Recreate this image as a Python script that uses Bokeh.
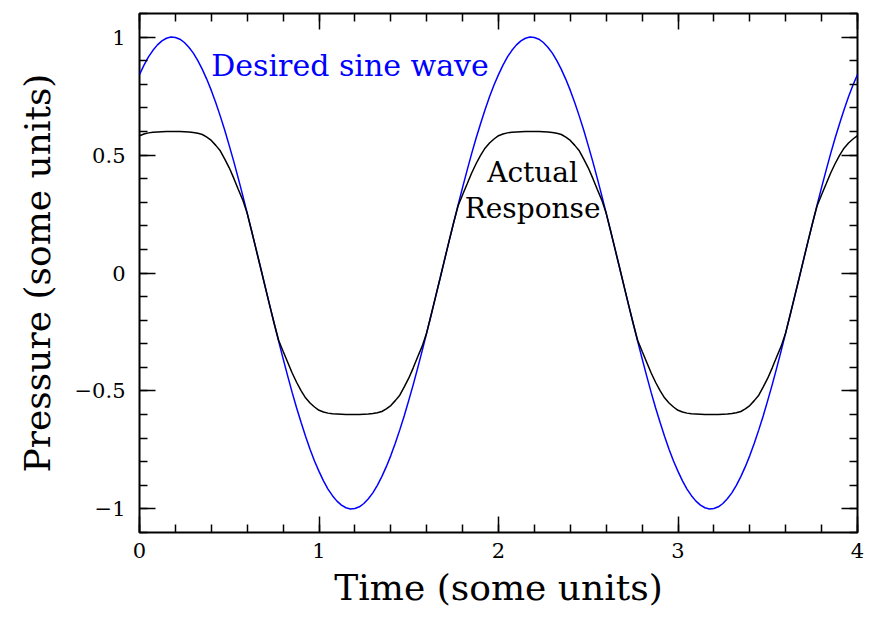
from bokeh.plotting import figure
from bokeh.models import FixedTicker, LinearAxis, Range1d, Label
from bokeh.embed import file_html
from bokeh.resources import INLINE

# sample times (0 .. 4 in steps of 0.025)
time = [round(i * 0.025, 3) for i in range(161)]

desired = [
    # 0 .. 1
    0.841, 0.881, 0.916, 0.944, 0.967, 0.984, 0.995, 1.000, 0.998, 0.991,
    0.977, 0.957, 0.932, 0.900, 0.863, 0.821, 0.774, 0.722, 0.665, 0.605,
    0.540, 0.473, 0.402, 0.329, 0.254, 0.177, 0.099, 0.021, -0.058, -0.136,
    -0.213, -0.289, -0.363, -0.435, -0.505, -0.571, -0.633, -0.692, -0.747, -0.797,
    -0.841,
    # 1.025 .. 2
    -0.881, -0.916, -0.944, -0.967, -0.984, -0.995, -1.000, -0.998, -0.991,
    -0.977, -0.957, -0.932, -0.900, -0.863, -0.821, -0.774, -0.722, -0.665, -0.605,
    -0.540, -0.473, -0.402, -0.329, -0.254, -0.177, -0.099, -0.021, 0.058, 0.136,
    0.213, 0.289, 0.363, 0.435, 0.505, 0.571, 0.633, 0.692, 0.747, 0.797,
    0.841,
    # 2.025 .. 3
    0.881, 0.916, 0.944, 0.967, 0.984, 0.995, 1.000, 0.998, 0.991,
    0.977, 0.957, 0.932, 0.900, 0.863, 0.821, 0.774, 0.722, 0.665, 0.605,
    0.540, 0.473, 0.402, 0.329, 0.254, 0.177, 0.099, 0.021, -0.058, -0.136,
    -0.213, -0.289, -0.363, -0.435, -0.505, -0.571, -0.633, -0.692, -0.747, -0.797,
    -0.841,
    # 3.025 .. 4
    -0.881, -0.916, -0.944, -0.967, -0.984, -0.995, -1.000, -0.998, -0.991,
    -0.977, -0.957, -0.932, -0.900, -0.863, -0.821, -0.774, -0.722, -0.665, -0.605,
    -0.540, -0.473, -0.402, -0.329, -0.254, -0.177, -0.099, -0.021, 0.058, 0.136,
    0.213, 0.289, 0.363, 0.435, 0.505, 0.571, 0.633, 0.692, 0.747, 0.797,
    0.841,
]

actual = [
    # 0 .. 1
    0.582, 0.589, 0.594, 0.597, 0.598, 0.599, 0.600, 0.600, 0.600, 0.600,
    0.599, 0.598, 0.596, 0.592, 0.587, 0.576, 0.562, 0.541, 0.518, 0.483,
    0.446, 0.402, 0.355, 0.310, 0.253, 0.177, 0.099, 0.021, -0.058, -0.136,
    -0.213, -0.285, -0.332, -0.377, -0.423, -0.463, -0.499, -0.529, -0.551, -0.568,
    -0.582,
    # 1.025 .. 2
    -0.589, -0.594, -0.597, -0.598, -0.599, -0.600, -0.600, -0.600, -0.600,
    -0.599, -0.598, -0.596, -0.592, -0.587, -0.576, -0.562, -0.541, -0.518, -0.483,
    -0.446, -0.402, -0.355, -0.310, -0.253, -0.177, -0.099, -0.021, 0.058, 0.136,
    0.213, 0.285, 0.332, 0.377, 0.423, 0.463, 0.499, 0.529, 0.551, 0.568,
    0.582,
    # 2.025 .. 3
    0.589, 0.594, 0.597, 0.598, 0.599, 0.600, 0.600, 0.600, 0.600,
    0.599, 0.598, 0.596, 0.592, 0.587, 0.576, 0.562, 0.541, 0.518, 0.483,
    0.446, 0.402, 0.355, 0.310, 0.253, 0.177, 0.099, 0.021, -0.058, -0.136,
    -0.213, -0.285, -0.332, -0.377, -0.423, -0.463, -0.499, -0.529, -0.551, -0.568,
    -0.582,
    # 3.025 .. 4
    -0.589, -0.594, -0.597, -0.598, -0.599, -0.600, -0.600, -0.600, -0.600,
    -0.599, -0.598, -0.596, -0.592, -0.587, -0.576, -0.562, -0.541, -0.518, -0.483,
    -0.446, -0.402, -0.355, -0.310, -0.253, -0.177, -0.099, -0.021, 0.058, 0.136,
    0.213, 0.285, 0.332, 0.377, 0.423, 0.463, 0.499, 0.529, 0.551, 0.568,
    0.582,
]

x_ticks = [0, 1, 2, 3, 4]
x_minor = [round(i * 0.2, 1) for i in range(21)]
y_ticks = [-1, -0.5, 0, 0.5, 1]
y_minor = [round(-1.1 + i * 0.1, 1) for i in range(23)]
y_tick_labels = {-1.0: "\u22121", -0.5: "\u22120.5", 0.0: "0", 0.5: "0.5", 1.0: "1"}

FONT = "DejaVu Serif"

p = figure(width=865, height=610, x_range=Range1d(0, 4), y_range=Range1d(-1.1, 1.1),
           output_backend="svg", toolbar_location=None,
           min_border_left=139, min_border_right=8, min_border_top=13, min_border_bottom=70)
p.background_fill_color = "white"
p.border_fill_color = "white"
p.outline_line_color = "black"
p.outline_line_width = 2
p.xgrid.visible = False
p.ygrid.visible = False

p.line(time, desired, line_color="#0000ff", line_width=1.5)
p.line(time, actual, line_color="black", line_width=1.5)


def style_ticks(ax):
    ax.axis_line_color = None
    ax.major_tick_in = 16
    ax.major_tick_out = 0
    ax.minor_tick_in = 8
    ax.minor_tick_out = 0
    ax.major_tick_line_color = "black"
    ax.minor_tick_line_color = "black"
    ax.major_tick_line_width = 1.5
    ax.minor_tick_line_width = 1.5


def bare_axis(ticks, tick_len):
    # tick marks only (drawn as "minor" ticks so that no labels are created)
    ax = LinearAxis(ticker=FixedTicker(ticks=[], minor_ticks=ticks))
    style_ticks(ax)
    ax.minor_tick_in = tick_len
    ax.major_label_standoff = 0
    return ax


xa = p.xaxis[0]
xa.ticker = FixedTicker(ticks=x_ticks, minor_ticks=x_minor)
style_ticks(xa)
xa.major_label_text_font = FONT
xa.major_label_text_font_size = "21px"
xa.major_label_text_color = "black"
xa.major_label_standoff = 10
xa.axis_label = "Time (some units)"
xa.axis_label_text_font = FONT
xa.axis_label_text_font_size = "36px"
xa.axis_label_text_font_style = "normal"
xa.axis_label_text_color = "black"
xa.axis_label_standoff = 6

ya = p.yaxis[0]
ya.ticker = FixedTicker(ticks=y_ticks, minor_ticks=y_minor)
style_ticks(ya)
ya.major_label_text_font = FONT
ya.major_label_text_font_size = "21px"
ya.major_label_text_color = "black"
ya.major_label_standoff = 14
ya.major_label_overrides = y_tick_labels
ya.axis_label = "Pressure (some units)"
ya.axis_label_text_font = FONT
ya.axis_label_text_font_size = "36px"
ya.axis_label_text_font_style = "normal"
ya.axis_label_text_color = "black"
ya.axis_label_standoff = 14

p.add_layout(bare_axis(x_minor, 8), "above")
p.add_layout(bare_axis(x_ticks, 16), "above")
p.add_layout(bare_axis(y_minor, 8), "right")
p.add_layout(bare_axis(y_ticks, 16), "right")

p.add_layout(Label(x=0.40, y=0.88, text="Desired sine wave", text_font=FONT,
                   text_font_size="30px", text_color="#0000ff", text_baseline="alphabetic",
                   text_align="left"))
p.add_layout(Label(x=2.19, y=0.425, text="Actual", text_font=FONT,
                   text_font_size="28px", text_color="black", text_baseline="alphabetic",
                   text_align="center"))
p.add_layout(Label(x=2.19, y=0.275, text="Response", text_font=FONT,
                   text_font_size="28px", text_color="black", text_baseline="alphabetic",
                   text_align="center"))

open("out.html", "w").write(file_html(p, INLINE))
